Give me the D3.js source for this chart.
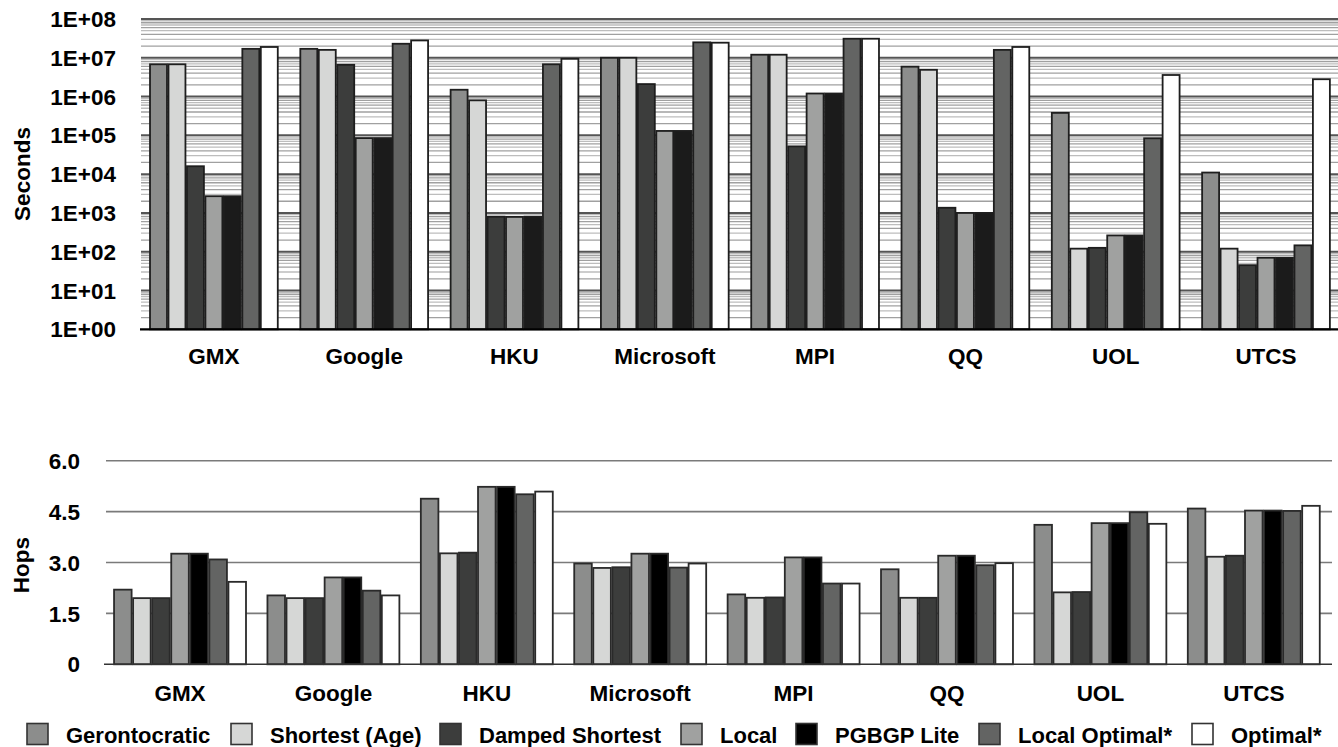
<!DOCTYPE html>
<html><head><meta charset="utf-8">
<script src="https://cdn.jsdelivr.net/npm/d3@7"></script>
<style>
html,body{margin:0;padding:0;background:#fff;}
svg text{font-family:"Liberation Sans",Arial,Helvetica,sans-serif;font-weight:bold;fill:#000;}
</style></head>
<body>
<svg id="c" width="1338" height="747"></svg>
<script>
const categories = ["GMX","Google","HKU","Microsoft","MPI","QQ","UOL","UTCS"];
const seriesNames = ["Gerontocratic","Shortest (Age)","Damped Shortest","Local","PGBGP Lite","Local Optimal*","Optimal*"];
const seriesColors = ["#8c8d8c","#d6d7d6","#3c3d3c","#a0a1a0","#1b1b1b","#636463","#ffffff"];
const bottomColors = ["#8c8d8c","#d6d7d6","#3c3d3c","#a0a1a0","#000000","#636463","#ffffff"];

// Seconds (log scale), one array per series, in category order
const secGerontocratic = [6.8e6, 1.7e7, 1.5e6, 1.0e7, 1.2e7, 5.9e6, 3.8e5, 1.1e4];
const secShortest      = [6.8e6, 1.6e7, 8.0e5, 1.0e7, 1.2e7, 4.9e6, 120, 120];
const secDamped        = [1.6e4, 6.6e6, 800, 2.1e6, 5.2e4, 1360, 126, 45];
const secLocal         = [2.7e3, 8.5e4, 790, 1.3e5, 1.2e6, 1000, 263, 70];
const secPGBGP         = [2.7e3, 8.5e4, 800, 1.3e5, 1.2e6, 1000, 263, 70];
const secLocalOptimal  = [1.7e7, 2.3e7, 6.8e6, 2.5e7, 3.1e7, 1.6e7, 8.4e4, 146];
const secOptimal       = [1.9e7, 2.8e7, 9.4e6, 2.45e7, 3.1e7, 1.9e7, 3.6e6, 2.8e6];

// Hops
const hopGerontocratic = [2.20, 2.03, 4.88, 2.97, 2.06, 2.80, 4.11, 4.59];
const hopShortest      = [1.95, 1.95, 3.27, 2.84, 1.96, 1.96, 2.12, 3.17];
const hopDamped        = [1.95, 1.95, 3.29, 2.86, 1.97, 1.96, 2.13, 3.20];
const hopLocal         = [3.26, 2.56, 5.23, 3.26, 3.15, 3.20, 4.16, 4.53];
const hopPGBGP         = [3.26, 2.56, 5.23, 3.26, 3.15, 3.20, 4.16, 4.53];
const hopLocalOptimal  = [3.09, 2.17, 5.01, 2.85, 2.38, 2.92, 4.48, 4.52];
const hopOptimal       = [2.43, 2.03, 5.09, 2.97, 2.38, 2.98, 4.14, 4.67];

const secTicks = [1,10,100,1e3,1e4,1e5,1e6,1e7,1e8];
const secTickLabels = ["1E+00","1E+01","1E+02","1E+03","1E+04","1E+05","1E+06","1E+07","1E+08"];
const hopTicks = [0,1.5,3,4.5,6];
const hopTickLabels = ["0","1.5","3.0","4.5","6.0"];

const secSeries = [secGerontocratic,secShortest,secDamped,secLocal,secPGBGP,secLocalOptimal,secOptimal];
const hopSeries = [hopGerontocratic,hopShortest,hopDamped,hopLocal,hopPGBGP,hopLocalOptimal,hopOptimal];

const svg = d3.select("#c");

// ---------- Top chart ----------
const x1 = d3.scaleBand().domain(categories).range([140.7,1339.2]).paddingInner(0.14).paddingOuter(0.057);
const xs1 = d3.scaleBand().domain(d3.range(7)).range([0,x1.bandwidth()]);
const y1 = d3.scaleLog().domain([1,1e8]).range([329.3,19]);

const gTop = svg.append("g");
const minor = [];
for (let e=0;e<8;e++) for (let k=2;k<=9;k++) minor.push(k*Math.pow(10,e));
gTop.selectAll("line.minor").data(minor).join("line")
  .attr("x1",141).attr("x2",1338)
  .attr("y1",d=>y1(d)).attr("y2",d=>y1(d))
  .attr("stroke",(d,i)=>(i%8)%2===0?"#a0a0a0":"#bdbdbd").attr("stroke-width",1.3);
gTop.selectAll("line.major").data(secTicks.slice(1)).join("line")
  .attr("x1",141).attr("x2",1338)
  .attr("y1",d=>y1(d)).attr("y2",d=>y1(d))
  .attr("stroke","#555").attr("stroke-width",2);

categories.forEach((c,ci)=>{
  secSeries.forEach((s,si)=>{
    gTop.append("rect")
      .attr("x",x1(c)+xs1(si)+0.75).attr("width",xs1.bandwidth()-1.5)
      .attr("y",y1(s[ci])).attr("height",y1(1)-y1(s[ci]))
      .attr("fill",seriesColors[si]).attr("stroke","#1e1e1e").attr("stroke-width",1.8);
  });
});
gTop.append("line").attr("x1",140).attr("x2",1338).attr("y1",y1(1)).attr("y2",y1(1))
  .attr("stroke","#000").attr("stroke-width",2.2);

gTop.selectAll("text.tick").data(secTicks).join("text")
  .attr("x",116).attr("y",d=>y1(d)).attr("dy","0.36em")
  .attr("text-anchor","end").style("font-size","22.5px")
  .text((d,i)=>secTickLabels[i]);
gTop.selectAll("text.cat").data(categories).join("text")
  .attr("x",d=>x1(d)+x1.bandwidth()/2).attr("y",364)
  .attr("text-anchor","middle").style("font-size","22.5px").text(d=>d);
gTop.append("text").attr("transform","translate(30,174) rotate(-90)")
  .attr("text-anchor","middle").style("font-size","22.5px").text("Seconds");

// ---------- Bottom chart ----------
const x2 = d3.scaleBand().domain(categories).range([104,1329.8]).paddingInner(0.13).paddingOuter(0.0606);
const xs2 = d3.scaleBand().domain(d3.range(7)).range([0,x2.bandwidth()]);
const y2 = d3.scaleLinear().domain([0,6]).range([664.3,460.7]);

const gBot = svg.append("g");
gBot.selectAll("line.grid").data(hopTicks.slice(1)).join("line")
  .attr("x1",106).attr("x2",1332)
  .attr("y1",d=>y2(d)).attr("y2",d=>y2(d))
  .attr("stroke","#7a7a7a").attr("stroke-width",1.6);
categories.forEach((c,ci)=>{
  hopSeries.forEach((s,si)=>{
    gBot.append("rect")
      .attr("x",x2(c)+xs2(si)+0.75).attr("width",xs2.bandwidth()-1.5)
      .attr("y",y2(s[ci])).attr("height",y2(0)-y2(s[ci]))
      .attr("fill",bottomColors[si]).attr("stroke","#2a2a2a").attr("stroke-width",1.8);
  });
});
gBot.append("line").attr("x1",104).attr("x2",1332).attr("y1",y2(0)).attr("y2",y2(0))
  .attr("stroke","#333").attr("stroke-width",1.6);
gBot.selectAll("text.tick").data(hopTicks).join("text")
  .attr("x",80).attr("y",d=>y2(d)).attr("dy","0.36em")
  .attr("text-anchor","end").style("font-size","22.5px")
  .text((d,i)=>hopTickLabels[i]);
gBot.selectAll("text.cat").data(categories).join("text")
  .attr("x",d=>x2(d)+x2.bandwidth()/2).attr("y",701)
  .attr("text-anchor","middle").style("font-size","22.5px").text(d=>d);
gBot.append("text").attr("transform","translate(29,565) rotate(-90)")
  .attr("text-anchor","middle").style("font-size","22.5px").text("Hops");

// ---------- Legend ----------
const legX = [27,231,440,681,796,979,1192];
const gLeg = svg.append("g");
seriesNames.forEach((n,i)=>{
  gLeg.append("rect").attr("x",legX[i]).attr("y",723.5).attr("width",21).attr("height",21)
    .attr("fill",bottomColors[i]).attr("stroke","#333").attr("stroke-width",1.6);
  gLeg.append("text").attr("x",legX[i]+39).attr("y",742.5).style("font-size","22px").text(n);
});
</script>
</body></html>
